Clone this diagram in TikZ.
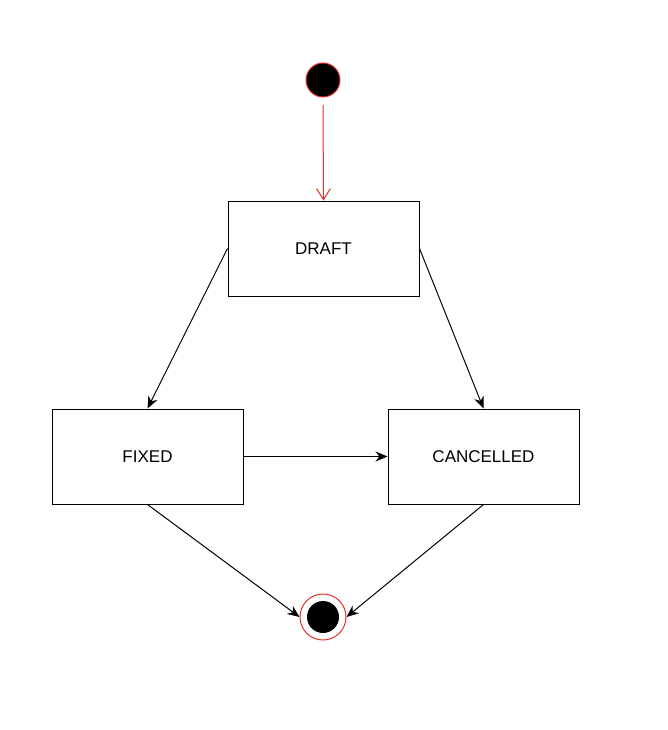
\documentclass[tikz,border=0pt]{standalone}
\usepackage{fontspec}
\setmainfont{Liberation Sans}
\usetikzlibrary{arrows.meta}
\definecolor{rd}{HTML}{E8302A}
\begin{document}
\begin{tikzpicture}[x=1pt,y=-1pt,
 st/.style={draw,line width=1pt,minimum width=191pt,minimum height=95pt,font=\fontsize{17}{20}\selectfont},
 ar/.style={draw,line width=1pt,-{Stealth[length=12pt,width=10pt]}}]
\useasboundingbox (0,0) rectangle (668,730);
\node[circle,fill=black,draw=rd,line width=1pt,minimum size=34pt,inner sep=0] (init) at (323,80) {};
\node[st] (draft) at (323.5,248.5) {DRAFT};
\node[st] (fixed) at (147.5,456.5) {FIXED};
\node[st] (canc) at (483.5,456.5) {CANCELLED};
\node[circle,draw=rd,line width=1pt,minimum size=46pt,inner sep=0] (fin) at (323,617) {};
\node[circle,fill=black,minimum size=32pt,inner sep=0] at (fin) {};
\coordinate (s0) at (323,105);
\draw[rd,line width=1pt,-{Straight Barb[length=11pt,width=14pt]}] (s0) -- (draft.north);
\draw[ar] (draft.west) -- (fixed.north);
\draw[ar] (draft.east) -- (canc.north);
\draw[ar] (fixed.east) -- (canc.west);
\draw[ar] (fixed.south) -- (fin.west);
\draw[ar] (canc.south) -- (fin.east);
\end{tikzpicture}
\end{document}
